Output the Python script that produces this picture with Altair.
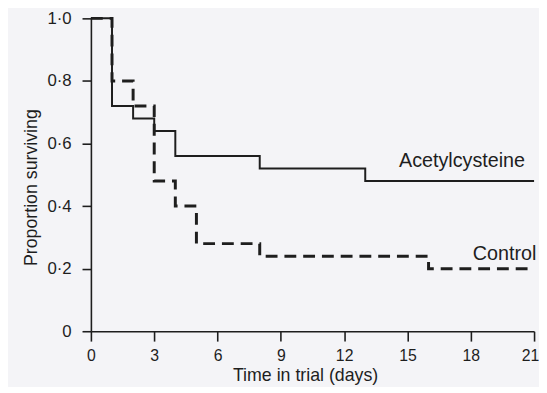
import altair as alt
import pandas as pd

# Kaplan-Meier step data
acet_days = [0, 1, 2, 3, 4, 8, 13, 21]
acet_surv = [1.0, 0.72, 0.68, 0.64, 0.56, 0.52, 0.48, 0.48]
ctrl_days = [0, 1, 2, 3, 4, 5, 8, 16, 21]
ctrl_surv = [1.0, 0.80, 0.72, 0.48, 0.40, 0.28, 0.24, 0.20, 0.20]

x_ticks = [0, 3, 6, 9, 12, 15, 18, 21]
y_ticks = [0, 0.2, 0.4, 0.6, 0.8, 1.0]

label_text = ["Acetylcysteine", "Control"]
label_x = [14.6, 18.1]
label_y = [0.524, 0.227]

FONT = "Liberation Sans"
INK = "#1e1e1e"

acet = pd.DataFrame({"day": acet_days, "surv": acet_surv})
ctrl = pd.DataFrame({"day": ctrl_days, "surv": ctrl_surv})
labels = pd.DataFrame({"text": label_text, "day": label_x, "surv": label_y})

xs = alt.Scale(domain=[0, 21], nice=False, zero=False)
ys = alt.Scale(domain=[0, 1], nice=False)

xaxis = alt.Axis(
    values=x_ticks, title="Time in trial (days)", grid=False,
    tickSize=10, labelPadding=7, labelFontSize=16, labelFont=FONT,
    labelColor=INK, titleFont=FONT, titleFontSize=18, titleFontWeight="normal",
    titleColor=INK, titleY=36, titleX=217, titleBaseline="top",
    domainColor=INK, tickColor=INK, domainWidth=1.6, tickWidth=1.6,
    labelFlush=False, labelOverlap=False,
    labelOffset={"condition": {"test": "datum.value == 21", "value": -4}, "value": 0},
)
yaxis = alt.Axis(
    values=y_ticks, title="Proportion surviving", grid=False,
    tickSize=9, labelPadding=11, labelFontSize=17, labelFont=FONT,
    labelColor=INK, titleFont=FONT, titleFontSize=18, titleFontWeight="normal",
    titleColor=INK, titleX=-55, titleY=171, titleBaseline="alphabetic",
    titleAngle=-90, titleAlign="center",
    domainColor=INK, tickColor=INK, domainWidth=1.6, tickWidth=1.6,
    labelExpr="datum.value == 0 ? '0' : replace(format(datum.value, '.1f'), '.', '·')",
    labelFlush=False, labelOverlap=False,
)

ctrl_line = alt.Chart(ctrl).mark_line(
    interpolate="step-after", color=INK, strokeWidth=3, strokeDash=[12, 7]
).encode(
    x=alt.X("day:Q", scale=xs, axis=xaxis),
    y=alt.Y("surv:Q", scale=ys, axis=yaxis),
)

acet_line = alt.Chart(acet).mark_line(
    interpolate="step-after", color=INK, strokeWidth=2
).encode(
    x=alt.X("day:Q", scale=xs),
    y=alt.Y("surv:Q", scale=ys),
)

text = alt.Chart(labels).mark_text(
    align="left", baseline="alphabetic", font=FONT, fontSize=20, color=INK
).encode(
    x=alt.X("day:Q", scale=xs),
    y=alt.Y("surv:Q", scale=ys),
    text="text:N",
)

chart = alt.layer(ctrl_line, acet_line, text).properties(
    width=449, height=317,
    autosize=alt.AutoSizeParams(type="none"),
    padding={"left": 84, "top": 8, "right": 5, "bottom": 54},
    background="#f4f4f7",
).configure_view(stroke=None)

chart.save("out.html", embed_options={"renderer": "svg", "actions": False})
